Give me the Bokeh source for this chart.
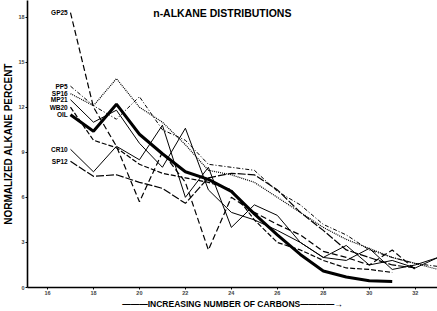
from bokeh.plotting import figure
from bokeh.models import Range1d, Label, FixedTicker
from bokeh.embed import file_html
from bokeh.resources import INLINE

carbons = list(range(17, 34))

oil  = [11.5, 10.4, 12.2, 10.2, 8.9, 7.7, 7.2, 6.4, 4.9, 3.5, 2.2, 1.1, 0.7, 0.45, 0.4]
gp25 = [18.3, 12.0, 9.4, 5.7, 9.0, 7.0, 2.5, 6.0, 5.0, 4.2, 3.5, 2.4, 2.0, 1.5, 2.5, 1.2]
pp5  = [13.4, 12.1, 11.2, 12.7, 10.5, 9.8, 8.2, 8.0, 7.8, 6.4, 5.5, 4.2, 3.5, 2.5, 2.0, 1.6, 1.4]
sp16 = [12.9, 12.1, 13.9, 12.0, 11.0, 9.5, 7.8, 7.5, 7.0, 6.0, 5.0, 4.0, 3.2, 2.6, 2.0, 1.6, 1.2]
mp21 = [12.5, 11.0, 11.8, 9.6, 8.0, 10.6, 6.5, 5.0, 4.5, 3.8, 3.0, 2.0, 1.8, 2.6, 1.2, 1.5, 2.0]
wb20 = [12.0, 9.8, 9.3, 8.2, 7.6, 7.3, 7.0, 6.5, 4.5, 3.0, 2.5, 1.8, 1.3, 1.2, 1.0]
cr10 = [9.2, 7.7, 9.4, 8.5, 10.8, 6.0, 8.0, 4.0, 5.5, 4.8, 3.0, 2.0, 2.8, 1.5, 1.8, 1.3, 2.0]
sp12 = [8.4, 7.4, 7.5, 7.0, 6.6, 5.6, 7.3, 7.6, 7.5, 6.5, 5.0, 3.8, 2.5, 2.0, 1.5, 1.3]

y_ticks = [0, 3, 6, 9, 12, 15, 18]
x_ticks = [16, 18, 20, 22, 24, 26, 28, 30, 32]

series = [
    ("GP25", gp25, "6 3", 1.2),
    ("PP5", pp5, "4 2 1 2", 1.0),
    ("SP16", sp16, "1 1", 1.2),
    ("MP21", mp21, "solid", 1.0),
    ("WB20", wb20, "5 2", 1.2),
    ("OIL", oil, "solid", 3.0),
    ("CR10", cr10, "solid", 1.0),
    ("SP12", sp12, "8 2", 1.2),
]

FONT = "Liberation Sans"

p = figure(width=437, height=311, output_backend="svg", toolbar_location=None,
           x_range=Range1d(15.13, 32.97), y_range=Range1d(0, 19.1),
           min_border_left=25, min_border_right=0, min_border_top=0, min_border_bottom=18)
p.outline_line_color = None
p.grid.visible = False
p.background_fill_color = "white"

for name, vals, dash, w in series:
    p.line(carbons[:len(vals)], vals, line_color="black", line_width=w, line_dash=dash)
    p.add_layout(Label(x=16.88, y=vals[0], text=name, text_align="right", text_baseline="middle",
                       text_font=FONT, text_font_style="bold", text_font_size="6.5px",
                       text_color="black"))

for ax in (p.xaxis[0], p.yaxis[0]):
    ax.axis_line_width = 1.6
    ax.axis_line_color = "black"
    ax.major_tick_line_color = "black"
    ax.major_tick_in = 0
    ax.major_tick_out = 2
    ax.minor_tick_line_color = None
    ax.major_label_text_font = FONT
    ax.major_label_text_font_style = "bold"
    ax.major_label_text_font_size = "5.5px"
    ax.major_label_standoff = 1
    ax.axis_label_text_font = FONT
    ax.axis_label_text_font_style = "bold"
    ax.axis_label_text_color = "black"
    ax.axis_label_standoff = 1

p.yaxis.ticker = FixedTicker(ticks=y_ticks)
p.xaxis.ticker = FixedTicker(ticks=x_ticks)
p.yaxis.axis_label = "NORMALIZED ALKANE PERCENT"
p.yaxis.axis_label_text_font_size = "10px"
p.xaxis.axis_label = "\u2014\u2014\u2014INCREASING NUMBER OF CARBONS\u2014\u2014\u2014\u2014\u2192"
p.xaxis.axis_label_text_font_size = "8.5px"

p.add_layout(Label(x=20.6, y=17.87, text="n-ALKANE DISTRIBUTIONS", text_font=FONT,
                   text_font_style="bold", text_font_size="10.5px", text_color="black"))

open("out.html", "w").write(file_html(p, INLINE))
